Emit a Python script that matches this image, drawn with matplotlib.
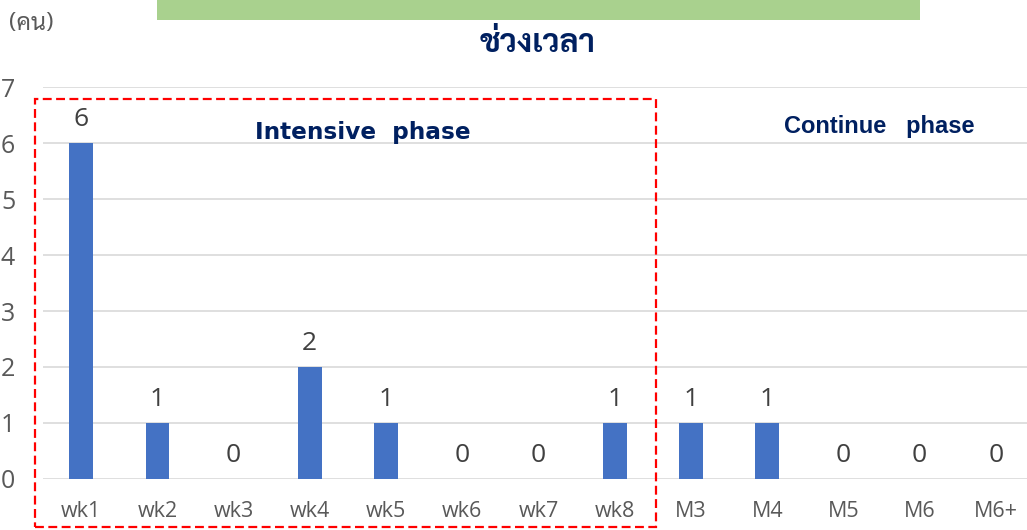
import matplotlib
matplotlib.use('Agg')
import matplotlib.pyplot as plt
from matplotlib.patches import Rectangle
import numpy as np

# data
periods = ['wk1', 'wk2', 'wk3', 'wk4', 'wk5', 'wk6', 'wk7', 'wk8',
           'M3', 'M4', 'M5', 'M6', 'M6+']
counts = [6, 1, 0, 2, 1, 0, 0, 1, 1, 1, 0, 0, 0]
y_ticks = [0, 1, 2, 3, 4, 5, 6, 7]

thai_fonts = ['Sarabun', 'Noto Sans Thai', 'Mitr', 'DejaVu Sans']
bar_color = '#4472C4'
navy = '#002060'

fig = plt.figure(figsize=(10.27, 5.30), dpi=100)
ax = fig.add_axes([43 / 1027, 51 / 530, 991 / 1027, 392 / 530])

x = np.arange(len(periods))
ax.bar(x, counts, width=0.31, color=bar_color, zorder=3)

for xi, c in zip(x, counts):
    ax.text(xi, c + 0.31, str(c), ha='center', va='baseline',
            fontsize=19, color='#404040', family='Open Sans')

ax.set_xlim(-0.5, len(periods) - 0.5)
ax.set_ylim(0, 7)
ax.set_yticks(y_ticks)
ax.set_xticks(x)
ax.set_xticklabels(periods, family='Open Sans', fontsize=15.5, color='#595959')
ax.set_yticklabels([str(t) for t in y_ticks], family='Open Sans',
                   fontsize=18, color='#595959')
ax.tick_params(axis='y', length=0, pad=20)
ax.tick_params(axis='x', length=0, pad=16)
ax.grid(axis='y', color='#D9D9D9', linewidth=1.2, zorder=0)
ax.set_axisbelow(True)
for s in ax.spines.values():
    s.set_visible(False)

# intensive phase box
box = Rectangle((-0.60, -0.86), 8.14, 7.65, fill=False, edgecolor='red',
                linewidth=1.6, linestyle=(0, (4, 2)), clip_on=False, zorder=5)
ax.add_patch(box)

ax.text(3.69, 6.07, 'Intensive  phase', ha='center', va='baseline',
        fontsize=16.7, fontweight='bold', color=navy, family='DejaVu Sans')
ax.text(10.47, 6.18, 'Continue   phase', ha='center', va='baseline',
        fontsize=17, fontweight='bold', color=navy, family='Liberation Sans')

# title strip (cropped in the reference)
fig.patches.append(Rectangle((157 / 1027, 510 / 530), 763 / 1027, 30 / 530,
                             transform=fig.transFigure, facecolor='#A9D18E',
                             edgecolor='none', zorder=0))
fig.text(538 / 1027, 478 / 530, 'ช่วงเวลา', ha='center', va='baseline',
         fontsize=23, fontweight='bold', color=navy, family=thai_fonts)
fig.text(31 / 1027, 506 / 530, '(คน)', ha='center', va='center',
         fontsize=17, color='#595959', family=thai_fonts)

fig.savefig('out.png', dpi=100)
